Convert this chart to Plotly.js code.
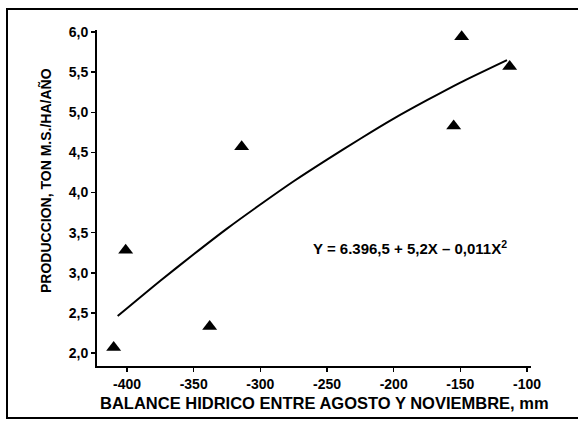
<!DOCTYPE html>
<html>
<head>
<meta charset="utf-8">
<script src="https://cdn.plot.ly/plotly-3.0.1.min.js"></script>
<style>
  html, body { margin: 0; padding: 0; background: #fff; }
  #wrap { position: relative; width: 578px; height: 421px; overflow: hidden; }
  #chart { position: absolute; left: 0; top: 0; width: 578px; height: 421px; }
  #frame { position: absolute; left: 6px; top: 8px; width: 580px; height: 407px; border: 2px solid #000; pointer-events: none; }
</style>
</head>
<body>
<div id="wrap">
  <div id="chart"></div>
  <div id="frame"></div>
</div>
<script>
// Observed points
const balanceX = [-410, -401, -338, -314, -155, -149, -113];
const produccionY = [2.07, 3.28, 2.33, 4.57, 4.83, 5.94, 5.57];

// Fitted curve
const curveX = [-407, -375, -350, -325, -300, -275, -250, -225, -200, -175, -150, -115];
const curveY = [2.46, 2.90, 3.23, 3.55, 3.85, 4.14, 4.41, 4.67, 4.92, 5.15, 5.37, 5.65];

const yTickVals = [2.0, 2.5, 3.0, 3.5, 4.0, 4.5, 5.0, 5.5, 6.0];
const yTickText = ["2,0", "2,5", "3,0", "3,5", "4,0", "4,5", "5,0", "5,5", "6,0"];
const xTickVals = [-400, -350, -300, -250, -200, -150, -100];
const xTickText = ["-400", "-350", "-300", "-250", "-200", "-150", "-100"];

const equationText = "Y = 6.396,5 + 5,2X \u2013 0,011X<sup>2</sup>";
const xTitle = "BALANCE HIDRICO ENTRE AGOSTO Y NOVIEMBRE, mm";
const yTitle = "PRODUCCION, TON M.S./HA/AÑO";

const fontFam = "Liberation Sans, Arial, Helvetica, sans-serif";

const traces = [
  {
    x: curveX, y: curveY, type: "scatter", mode: "lines",
    line: { color: "#000", width: 2, shape: "spline", smoothing: 0.6 },
    hoverinfo: "skip", showlegend: false
  },
  {
    x: balanceX, y: produccionY, type: "scatter", mode: "markers",
    marker: { symbol: "triangle-up", size: 13, color: "#000" },
    showlegend: false
  }
];

const W = 578, H = 421, mL = 97, mR = 47, mT = 30, mB = 55;
const pw = W - mL - mR, ph = H - mT - mB;
// helper: pixel position -> paper fraction (for titles only)
const px = v => (v - mL) / pw;
const py = v => (H - mB - v) / ph;

const layout = {
  width: W, height: H,
  margin: { l: mL, r: mR, t: mT, b: mB },
  paper_bgcolor: "#fff", plot_bgcolor: "#fff",
  font: { family: fontFam, color: "#000", size: 13, weight: "bold" },
  xaxis: {
    range: [-422.5, -97], automargin: false,
    tickvals: xTickVals, ticktext: xTickText,
    showline: true, linecolor: "#000", linewidth: 2,
    ticks: "outside", ticklen: 4, tickwidth: 1.5, tickcolor: "#000",
    showgrid: false, zeroline: false,
    tickfont: { family: fontFam, size: 14, weight: "bold", color: "#000" }
  },
  yaxis: {
    range: [1.838, 6.025], automargin: false,
    tickvals: yTickVals, ticktext: yTickText,
    showline: true, linecolor: "#000", linewidth: 2,
    ticks: "outside", ticklen: 4, tickwidth: 1.5, tickcolor: "#000",
    showgrid: false, zeroline: false,
    tickfont: { family: fontFam, size: 14, weight: "bold", color: "#000" }
  },
  annotations: [
    {
      x: -188, y: 3.32, xref: "x", yref: "y",
      xanchor: "center", yanchor: "middle",
      text: equationText, showarrow: false,
      font: { family: fontFam, size: 15, weight: "bold", color: "#000" }
    },
    {
      x: px(324), y: py(403), xref: "paper", yref: "paper",
      xanchor: "center", yanchor: "middle",
      text: xTitle, showarrow: false,
      font: { family: fontFam, size: 16.5, weight: "bold", color: "#000" }
    },
    {
      x: px(45), y: py(181), xref: "paper", yref: "paper",
      xanchor: "center", yanchor: "middle",
      text: yTitle, showarrow: false, textangle: -90,
      font: { family: fontFam, size: 14, weight: "bold", color: "#000" }
    }
  ]
};

Plotly.newPlot("chart", traces, layout, { staticPlot: true, displayModeBar: false });
</script>
</body>
</html>
